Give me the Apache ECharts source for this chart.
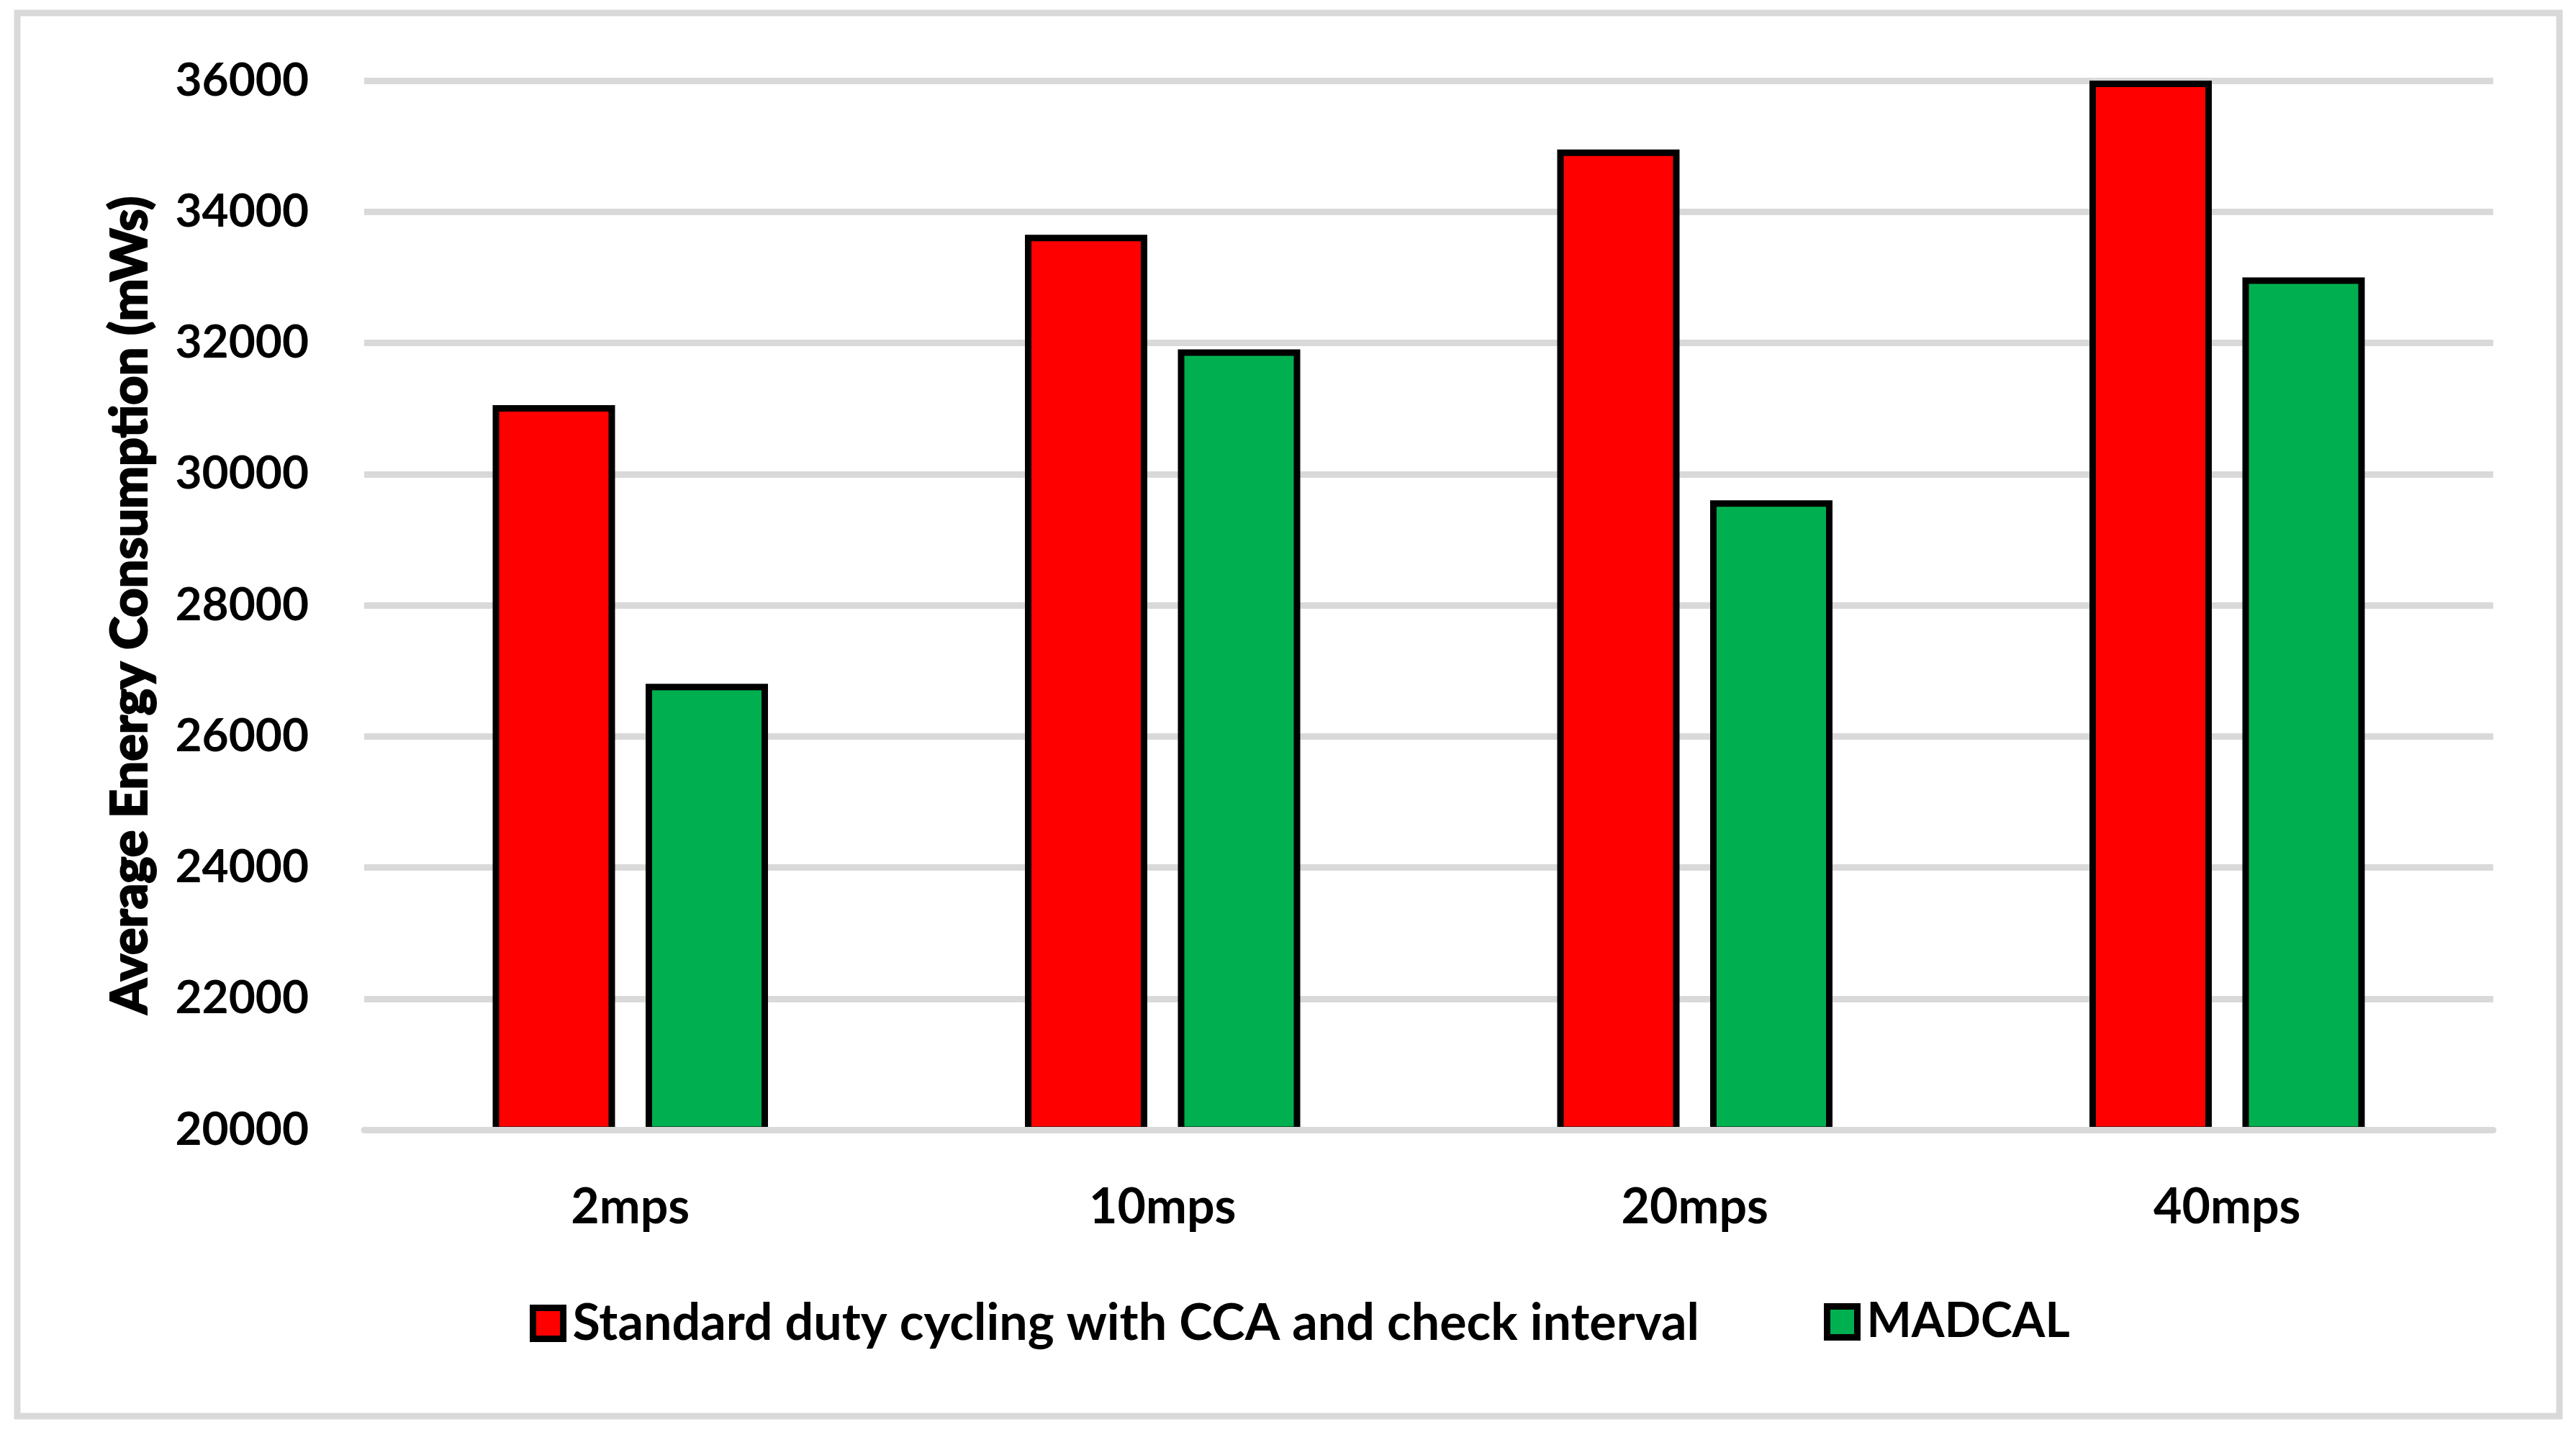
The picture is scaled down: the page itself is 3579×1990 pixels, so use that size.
<!DOCTYPE html>
<html>
<head>
<meta charset="utf-8">
<script src="https://cdn.jsdelivr.net/npm/echarts@6/dist/echarts.min.js"></script>
<style>
html,body{margin:0;padding:0;background:#fff;}
#chart{width:3579px;height:1990px;}
</style>
</head>
<body>
<div id="chart"></div>
<script>
const categories = ['2mps', '10mps', '20mps', '40mps'];
const seriesNames = ['Standard duty cycling with CCA and check interval', 'MADCAL'];
const standardValues = [31050, 33650, 34950, 36000];
const madcalValues = [26800, 31900, 29600, 33000];
const yTicks = { min: 20000, max: 36000, interval: 2000 };
const yAxisTitle = 'Average Energy Consumption (mWs)';

const FONT = 'Lato';
const chart = echarts.init(document.getElementById('chart'), null, { renderer: 'canvas' });

const legendBase = {
  orient: 'horizontal',
  top: 1804,
  padding: 0,
  itemWidth: 42,
  itemHeight: 43,
  icon: 'rect',
  selectedMode: false,
  itemStyle: { borderColor: '#000', borderWidth: 9 }
};
const legendText = (size) => ({ fontFamily: FONT, fontWeight: 'bold', fontSize: size, color: '#000', padding: [0, 0, 0, 8] });

chart.setOption({
  backgroundColor: '#fff',
  animation: false,
  textStyle: { fontFamily: FONT, fontWeight: 'bold', color: '#000' },
  graphic: [{
    type: 'rect',
    shape: { x: 24, y: 18, width: 3532, height: 1950 },
    style: { fill: 'none', stroke: '#D9D9D9', lineWidth: 9 },
    silent: true
  }],
  grid: { left: 506, right: 115, top: 112, bottom: 420, containLabel: false },
  legend: [
    Object.assign({}, legendBase, { left: 736, data: [seriesNames[0]], textStyle: legendText(70) }),
    Object.assign({}, legendBase, { left: 2534, data: [seriesNames[1]], textStyle: legendText(66) })
  ],
  xAxis: {
    type: 'category',
    data: categories,
    z: 5,
    axisLine: { show: true, lineStyle: { color: '#D9D9D9', width: 9 } },
    axisTick: { show: false },
    axisLabel: { fontFamily: FONT, fontWeight: 'bold', fontSize: 68, color: '#000', margin: 74 }
  },
  yAxis: {
    type: 'value',
    min: yTicks.min,
    max: yTicks.max,
    interval: yTicks.interval,
    name: yAxisTitle,
    nameLocation: 'middle',
    nameRotate: 90,
    nameGap: 325,
    nameTextStyle: {
      fontFamily: FONT, fontWeight: 900, fontSize: 70, color: '#000', align: 'center', verticalAlign: 'middle',
      textBorderColor: '#000', textBorderWidth: 2
    },
    axisLine: { show: false },
    axisTick: { show: false },
    splitLine: { show: true, lineStyle: { color: '#D9D9D9', width: 9 } },
    axisLabel: { fontFamily: FONT, fontWeight: 'bold', fontSize: 64, color: '#000', margin: 77, formatter: (v) => String(v) }
  },
  series: [
    {
      name: seriesNames[0],
      type: 'bar',
      data: standardValues,
      barWidth: 170,
      barGap: '25%',
      itemStyle: { color: '#FF0000', borderColor: '#000', borderWidth: 9 }
    },
    {
      name: seriesNames[1],
      type: 'bar',
      data: madcalValues,
      barWidth: 170,
      barGap: '25%',
      itemStyle: { color: '#00B050', borderColor: '#000', borderWidth: 9 }
    }
  ]
});
</script>
</body>
</html>
